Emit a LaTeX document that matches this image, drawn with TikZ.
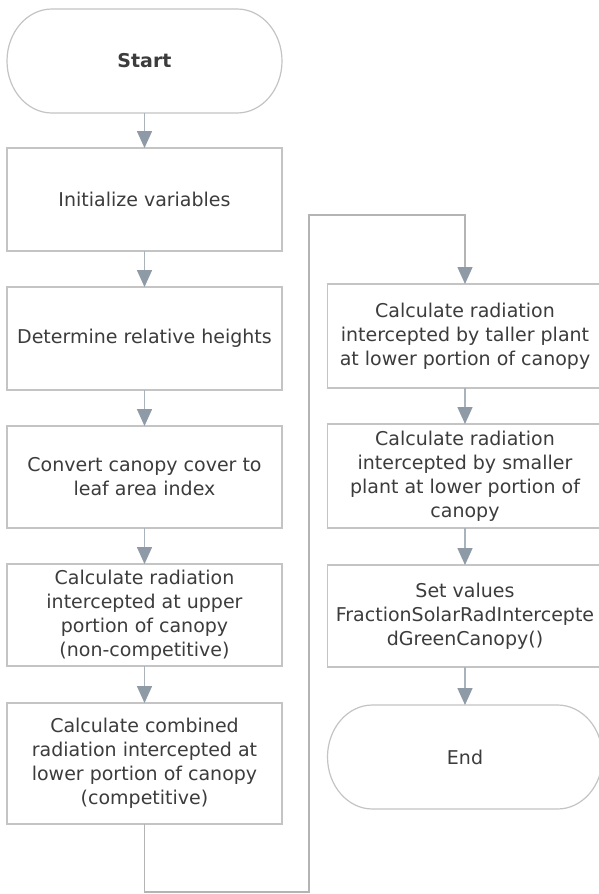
\documentclass[tikz,border=0pt]{standalone}
\usepackage{fontspec}
\setmainfont{DejaVu Sans}
\usetikzlibrary{arrows.meta,calc}
\definecolor{boxline}{HTML}{C4C4C4}
\definecolor{loopline}{HTML}{B4B4B4}
\definecolor{arrowline}{HTML}{A9B3BC}
\definecolor{arrowhead}{HTML}{8E9BA7}
\definecolor{txt}{HTML}{3C3C3C}
\tikzset{
  procbox/.style={draw=boxline, line width=1.3pt, minimum width=275pt, inner sep=2pt, outer sep=0pt, align=center, text=txt, font=\fontsize{19}{24}\selectfont, fill=white},
  termbox/.style={draw=none, minimum width=275pt, minimum height=104pt, inner sep=2pt, outer sep=0pt, align=center, text=txt, font=\fontsize{19}{24}\selectfont},
  termline/.style={draw=boxline, line width=1.2pt},
  flow/.style={draw=arrowline, line width=1.6pt, -{Triangle[width=15pt,length=17pt,color=arrowhead]}},
  loopflow/.style={draw=loopline, line width=1.4pt, -{Triangle[width=15pt,length=17pt,color=arrowhead]}},
}
\newcommand\stadiumpath[1]{%
  \draw[termline] ($(#1.north west)+(45,0)$) -- ($(#1.north east)+(-45,0)$)
    arc[start angle=-90,end angle=90,x radius=45,y radius=52]
    -- ($(#1.south west)+(45,0)$)
    arc[start angle=90,end angle=270,x radius=45,y radius=52] -- cycle;}
\begin{document}
\begin{tikzpicture}[x=1pt,y=-1pt]
\useasboundingbox (0,0) rectangle (599,894);
\fill[white] (0,0) rectangle (599,894);

% left column
\node[termbox] (start) at (144.5,61) {\textbf{Start}};
\stadiumpath{start}
\node[procbox, minimum height=103pt] (init) at (144.5,199.5) {Initialize variables};
\node[procbox, minimum height=103pt] (relh) at (144.5,338.5) {Determine relative heights};
\node[procbox, minimum height=102pt] (lai) at (144.5,477) {Convert canopy cover to\\leaf area index};
\node[procbox, minimum height=102pt] (upper) at (144.5,615) {Calculate radiation\\intercepted at upper\\portion of canopy\\(non-competitive)};
\node[procbox, minimum height=121pt] (comb) at (144.5,763.5) {Calculate combined\\radiation intercepted at\\lower portion of canopy\\(competitive)};

% right column
\node[procbox, minimum height=104pt] (taller) at (465,336) {Calculate radiation\\intercepted by taller plant\\at lower portion of canopy};
\node[procbox, minimum height=104pt] (smaller) at (465,476) {Calculate radiation\\intercepted by smaller\\plant at lower portion of\\canopy};
\node[procbox, minimum height=102pt] (setv) at (465,616) {Set values\\FractionSolarRadIntercepte\\dGreenCanopy()};
\node[termbox] (endn) at (465,757) {End};
\stadiumpath{endn}

% connectors
\draw[flow] (start.south) -- (init.north);
\draw[flow] (init.south) -- (relh.north);
\draw[flow] (relh.south) -- (lai.north);
\draw[flow] (lai.south) -- (upper.north);
\draw[flow] (upper.south) -- (comb.north);

\coordinate (lb) at (309,892);
\coordinate (lt) at (309,215);
\draw[loopflow, line join=miter] (comb.south) |- (lb) -- (lt) -| (taller.north);

\draw[flow] (taller.south) -- (smaller.north);
\draw[flow] (smaller.south) -- (setv.north);
\draw[flow] (setv.south) -- (endn.north);
\end{tikzpicture}
\end{document}
